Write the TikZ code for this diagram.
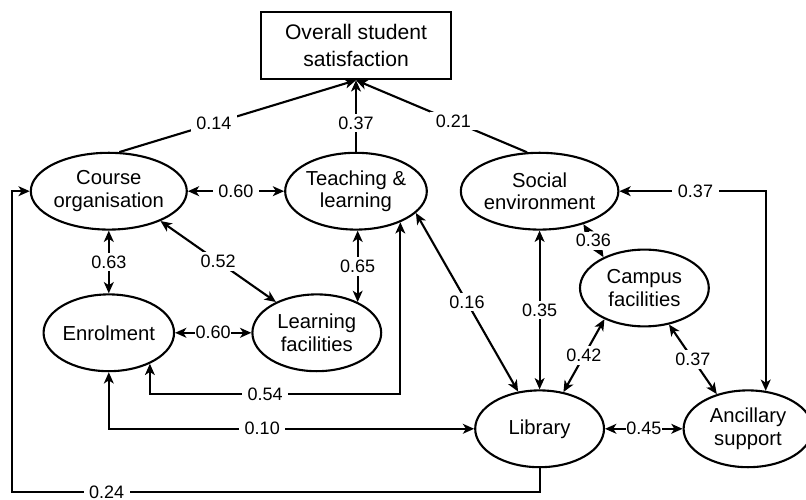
\documentclass[tikz,border=0pt]{standalone}
\usepackage{fontspec}
\setmainfont{Liberation Sans}
\usepackage{tikz}
\usetikzlibrary{positioning}
\usetikzlibrary{shapes.geometric}
\usetikzlibrary{arrows.meta}

\begin{document}
\begin{tikzpicture}[line width=1.5pt, >={Stealth[length=8pt, width=7pt, inset=2.2pt]},
        factor/.style={draw=black, ellipse, minimum width=3.22cm, minimum height=1.92cm, inner sep=0, align=center, font=\fontsize{14.4}{16.2}\selectfont},
        wt/.style={fill=white, inner xsep=4pt, inner ysep=2pt, font=\fontsize{12.8}{14}\selectfont},
        tight/.style={wt, inner xsep=0.5pt}]
        \useasboundingbox (0,0) rectangle (20.15,12.5);
        \node(overall) [draw=black, minimum width=4.75cm, minimum height=1.68cm, align=center, font=\fontsize{15}{19}\selectfont] at (8.9, 11.36) {Overall student\\satisfaction};
        \node(course) [factor] at (2.72, 7.72) {Course\\organisation};
        \node(teach) [factor] at (8.9, 7.72) {Teaching \&\\learning};
        \node(social) [factor] at (13.49, 7.72) {Social\\environment};
        \node(enrol) [factor] at (2.72, 4.18) {Enrolment};
        \node(learnfac) [factor] at (7.92, 4.18) {Learning\\facilities};
        \node(campus) [factor] at (16.11, 5.3) {Campus\\facilities};
        \node(library) [factor] at (13.49, 1.78) {Library};
        \node(ancillary) [factor] at (18.7, 1.78) {Ancillary\\support};
        \coordinate(b54) at (0, 2.65);
        \coordinate(b24) at (0.29, 0.2);
        % paths into overall satisfaction
        \draw[->] (course.75) -- (overall.south) node [wt, pos=0.4] {0.14};
        \draw[->] (teach.north) -- (overall.south) node [wt, pos=0.4] {0.37};
        \draw[->] (social.108) -- (overall.south) node [wt, pos=0.43] {0.21};
        % correlations
        \draw[<->] (course.east) -- (teach.west) node [wt, midway] {0.60};
        \draw[<->] (course.south) -- (enrol.north) node [wt, midway] {0.63};
        \draw[<->] (course.330) -- (learnfac.143) node [wt, midway] {0.52};
        \draw[<->] (learnfac.37 |- teach.south) -- (learnfac.37) node [wt, midway] {0.65};
        \draw[<->] (enrol.east) -- (learnfac.west) node [tight, midway] {0.60};
        \draw[<->] (teach.325) -- (teach.325 |- b54) -| node [wt, pos=0.27] {0.54} (enrol.323);
        \draw[<->] (enrol.south) |- node [wt, pos=0.71] {0.10} (library.west);
        \draw[->] (library.south) |- node [wt, pos=0.91] {0.24} (b24) |- (course.west);
        \draw[<->] (teach.340) -- (library.120) node [wt, midway] {0.16};
        \draw[<->] (social.south) -- (library.north) node [wt, midway] {0.35};
        \draw[<->] (social.323) -- (campus.143) node [tight, midway] {0.36};
        \draw[<->] (social.east) -| node [wt, pos=0.26] {0.37} (ancillary.65);
        \draw[<->] (library.57) -- (campus.218) node [wt, midway] {0.42};
        \draw[<->] (campus.304) -- (ancillary.132) node [wt, midway] {0.37};
        \draw[<->] (library.east) -- (ancillary.west) node [tight, midway] {0.45};
    \end{tikzpicture}
\end{document}
